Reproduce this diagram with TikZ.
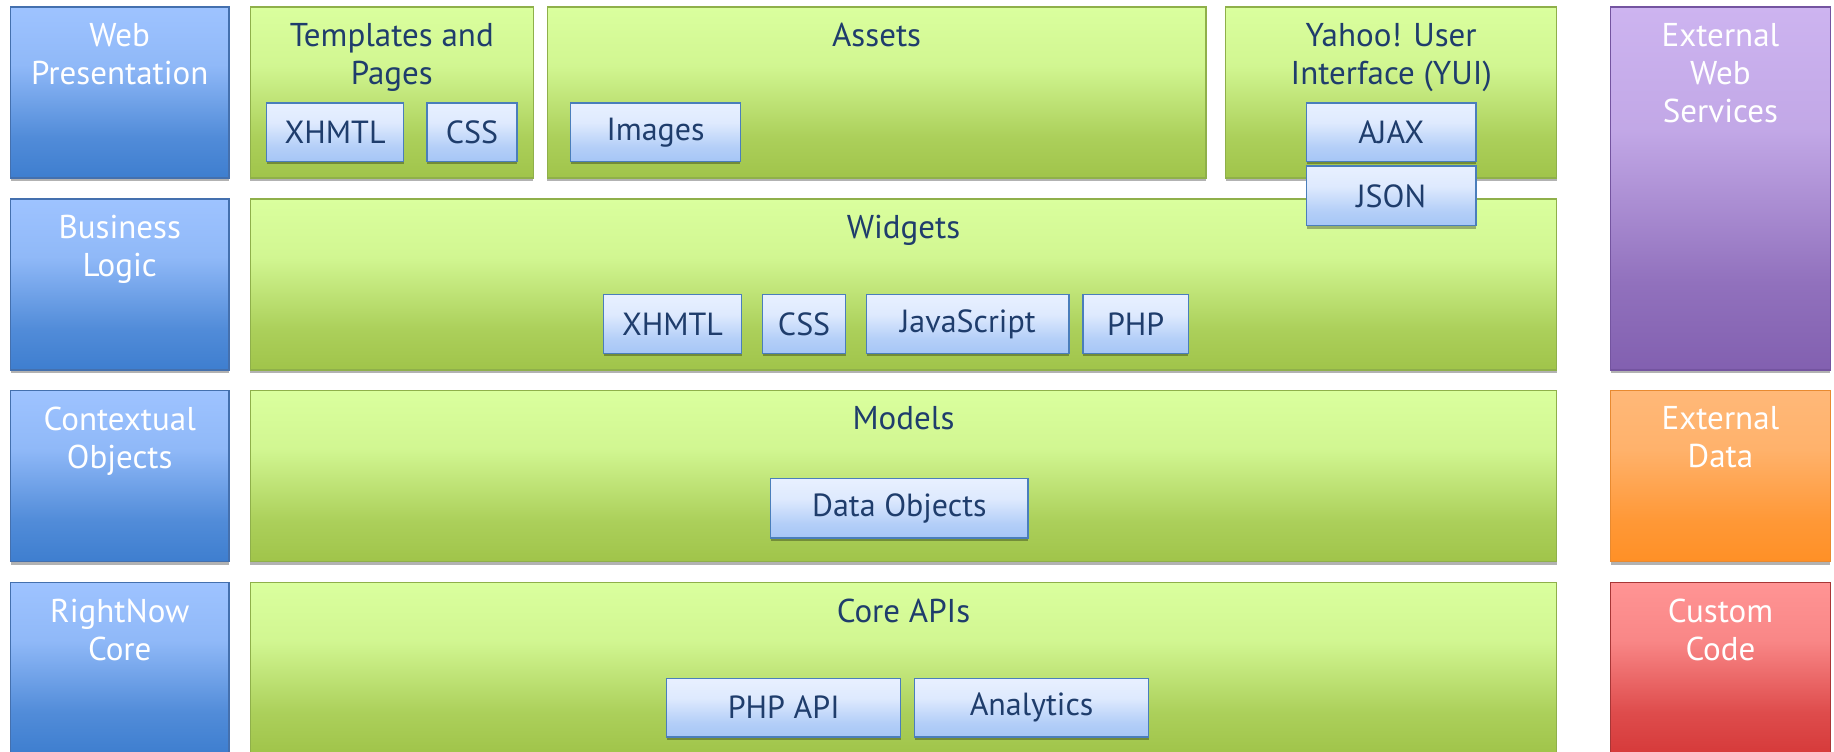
\documentclass[tikz,border=0pt]{standalone}
\usepackage{fontspec}
\setmainfont{PT Sans}
\usetikzlibrary{shadows}
\definecolor{Bluetop}{HTML}{9EC3FF}\definecolor{Bluebot}{HTML}{3E7ECF}\definecolor{Blueborder}{HTML}{4470AE}
\definecolor{Greentop}{HTML}{DAFF9E}\definecolor{Greenbot}{HTML}{A0C44A}\definecolor{Greenborder}{HTML}{8FB04A}
\definecolor{Subtop}{HTML}{E8F0FF}\definecolor{Subbot}{HTML}{A6C6F6}\definecolor{Subborder}{HTML}{4A7EBB}
\definecolor{Purpletop}{HTML}{CDB4F0}\definecolor{Purplebot}{HTML}{8260B0}\definecolor{Purpleborder}{HTML}{7454A0}
\definecolor{Orangetop}{HTML}{FFB878}\definecolor{Orangebot}{HTML}{FF9026}\definecolor{Orangeborder}{HTML}{E88A30}
\definecolor{Redtop}{HTML}{FF9494}\definecolor{Redbot}{HTML}{D63A3A}\definecolor{Redborder}{HTML}{A83636}
\definecolor{navy}{HTML}{1F3D6C}
\newcommand{\mkshade}[1]{%
  \colorlet{#1midA}{#1bot!80!#1top}\colorlet{#1midB}{#1top!85!#1bot}%
  \pgfdeclareverticalshading{sh#1}{100bp}{color(0bp)=(#1bot); color(25bp)=(#1bot); color(37bp)=(#1midA); color(58bp)=(#1midB); color(75bp)=(#1top); color(100bp)=(#1top)}}
\mkshade{Blue}\mkshade{Green}\mkshade{Sub}\mkshade{Purple}\mkshade{Orange}\mkshade{Red}
\tikzset{
  box/.style={draw=#1border, line width=1.3pt, shading=sh#1, inner sep=0pt,
    drop shadow={shadow xshift=0pt, shadow yshift=-3pt, opacity=0.3, fill=black}},
  wtitle/.style={text=white, align=center, inner sep=0pt, font=\fontsize{33}{38}\selectfont},
  ntitle/.style={text=navy, align=center, inner sep=0pt, font=\fontsize{33}{38}\selectfont},
  subbox/.style={box=Sub, text=navy, font=\fontsize{32}{36}\selectfont, minimum height=58.5pt},
}
\begin{document}
\begin{tikzpicture}[x=1pt,y=-1pt]
\useasboundingbox (0,0) rectangle (1834,752);
\clip (0,0) rectangle (1834,752);
\fill[white] (0,0) rectangle (1834,752);
% left column
\node[box=Blue, minimum width=218.5pt, minimum height=171pt] (b1) at (119.75,92.5) {};
\node[box=Blue, minimum width=218.5pt, minimum height=171pt] (b2) at (119.75,284.5) {};
\node[box=Blue, minimum width=218.5pt, minimum height=171pt] (b3) at (119.75,476) {};
\node[box=Blue, minimum width=218.5pt, minimum height=171pt] (b4) at (119.75,668) {};
% row 1
\node[box=Green, minimum width=283pt, minimum height=171pt] (tp) at (391.8,92.5) {};
\node[box=Green, minimum width=658.5pt, minimum height=171pt] (as) at (876.65,92.5) {};
\node[box=Green, minimum width=331pt, minimum height=171pt] (yui) at (1391.2,92.5) {};
% rows 2-4
\node[box=Green, minimum width=1306.4pt, minimum height=171pt] (wg) at (903.5,284.5) {};
\node[box=Green, minimum width=1306.4pt, minimum height=171pt] (md) at (903.5,476) {};
\node[box=Green, minimum width=1306.4pt, minimum height=171pt] (ca) at (903.5,668) {};
% right column
\node[box=Purple, minimum width=219.9pt, minimum height=363pt] (ews) at (1720.45,188.5) {};
\node[box=Orange, minimum width=219.9pt, minimum height=171pt] (ed) at (1720.45,476) {};
\node[box=Red, minimum width=219.9pt, minimum height=171pt] (cc) at (1720.45,668) {};
% titles
\node[wtitle, anchor=north] (tb1) at ([yshift=-16.5pt]b1.north) {Web\\Presentation};
\node[wtitle, anchor=north] (tb2) at ([yshift=-16.5pt]b2.north) {Business\\Logic};
\node[wtitle, anchor=north] (tb3) at ([yshift=-16.5pt]b3.north) {Contextual\\Objects};
\node[wtitle, anchor=north] (tb4) at ([yshift=-16.5pt]b4.north) {RightNow\\Core};
\node[ntitle, anchor=north] (ttp) at ([yshift=-16.5pt]tp.north) {Templates and\\Pages};
\node[ntitle, anchor=north] (tas) at ([yshift=-16.5pt]as.north) {Assets};
\node[ntitle, anchor=north] (tyui) at ([yshift=-16.5pt]yui.north) {Yahoo! User\\Interface (YUI)};
\node[ntitle, anchor=north] (twg) at ([yshift=-16.5pt]wg.north) {Widgets};
\node[ntitle, anchor=north] (tmd) at ([yshift=-16.5pt]md.north) {Models};
\node[ntitle, anchor=north] (tca) at ([yshift=-16.5pt]ca.north) {Core APIs};
\node[wtitle, anchor=north] (tews) at ([yshift=-16.5pt]ews.north) {External\\Web\\Services};
\node[wtitle, anchor=north] (ted) at ([yshift=-16.5pt]ed.north) {External\\Data};
\node[wtitle, anchor=north] (tcc) at ([yshift=-16.5pt]cc.north) {Custom\\Code};
% sub boxes
\node[subbox, minimum width=136.8pt] (x1) at (335.1,132.2) {XHMTL};
\node[subbox, minimum width=90pt] (c1) at (472,132.2) {CSS};
\node[subbox, minimum width=169.6pt] (im) at (655.6,132.2) {Images};
\node[subbox, minimum width=169.5pt] (aj) at (1391.25,132.2) {AJAX};
\node[subbox, minimum width=169.5pt, minimum height=59.7pt] (js) at (1391.25,195.9) {JSON};
\node[subbox, minimum width=138pt] (x2) at (672.5,324) {XHMTL};
\node[subbox, minimum width=83pt] (c2) at (804.1,324) {CSS};
\node[subbox, minimum width=202.3pt] (jv) at (967.9,324) {JavaScript};
\node[subbox, minimum width=105.3pt] (ph) at (1135.7,324) {PHP};
\node[subbox, minimum width=257.2pt, minimum height=59.6pt] (do) at (899.4,508.2) {Data Objects};
\node[subbox, minimum width=233.9pt] (pa) at (783.7,707.6) {PHP API};
\node[subbox, minimum width=233.9pt] (an) at (1031.6,707.6) {Analytics};
\end{tikzpicture}
\end{document}
